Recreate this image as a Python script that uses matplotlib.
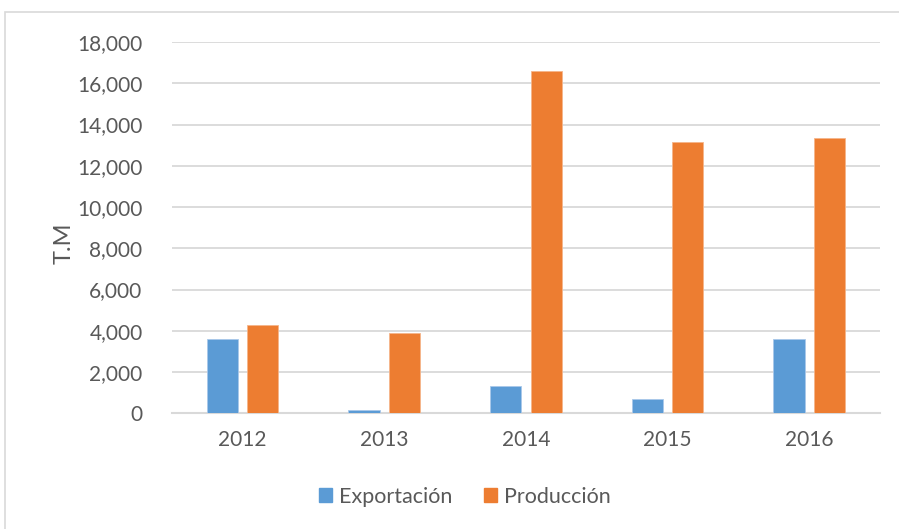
import matplotlib.pyplot as plt
import numpy as np
from matplotlib.patches import Patch, Rectangle

years = ['2012', '2013', '2014', '2015', '2016']
exportacion = [3600, 150, 1300, 700, 3600]
produccion = [4300, 3900, 16600, 13130, 13370]

blue = '#5B9BD5'
orange = '#ED7D31'
grid = '#D9D9D9'
text = '#595959'

plt.rcParams['font.family'] = ['Lato', 'DejaVu Sans']

fig = plt.figure(figsize=(8.99, 5.29), dpi=100)
ax = fig.add_axes([0.191, 0.2187, 0.788, 0.7019])

x = np.arange(len(years))
w = 0.22
ax.bar(x - 0.143, exportacion, w, color=blue, edgecolor='#A9C8EA', linewidth=0.6, zorder=3)
ax.bar(x + 0.143, produccion, w, color=orange, edgecolor='#F5B58A', linewidth=0.6, zorder=3)

ax.set_xlim(-0.5, len(years) - 0.5)
ax.set_ylim(0, 18000)
ax.set_yticks(range(0, 18001, 2000))
ax.set_yticklabels([f'{v:,}' for v in range(0, 18001, 2000)])
ax.set_xticks(x)
ax.set_xticklabels(years)

ax.grid(axis='y', color=grid, linewidth=1.3, zorder=0)
for s in ['top', 'right', 'left']:
    ax.spines[s].set_visible(False)
ax.spines['bottom'].set_color(grid)
ax.spines['bottom'].set_linewidth(1.5)
ax.tick_params(axis='both', length=0, labelsize=15, colors=text)
ax.tick_params(axis='y', pad=21)
ax.tick_params(axis='x', pad=12)

fig.text(0.071, 0.54, 'T.M', rotation=90, ha='center', va='center', fontsize=17, color=text)

handles = [Patch(color=blue, label='Exportación'), Patch(color=orange, label='Producción')]
fig.legend(handles=handles, loc='center', bbox_to_anchor=(0.517, 0.061), ncol=2, frameon=False,
           fontsize=15.5, labelcolor=text, handlelength=0.6, handleheight=0.6, handletextpad=0.3,
           columnspacing=1.5)

fig.patches.append(Rectangle((5 / 899, -0.1), 1.2, 0.977 + 0.1, transform=fig.transFigure,
                             fill=False, edgecolor=grid, linewidth=1.2))

fig.savefig('out.png', dpi=100)
plt.close(fig)
